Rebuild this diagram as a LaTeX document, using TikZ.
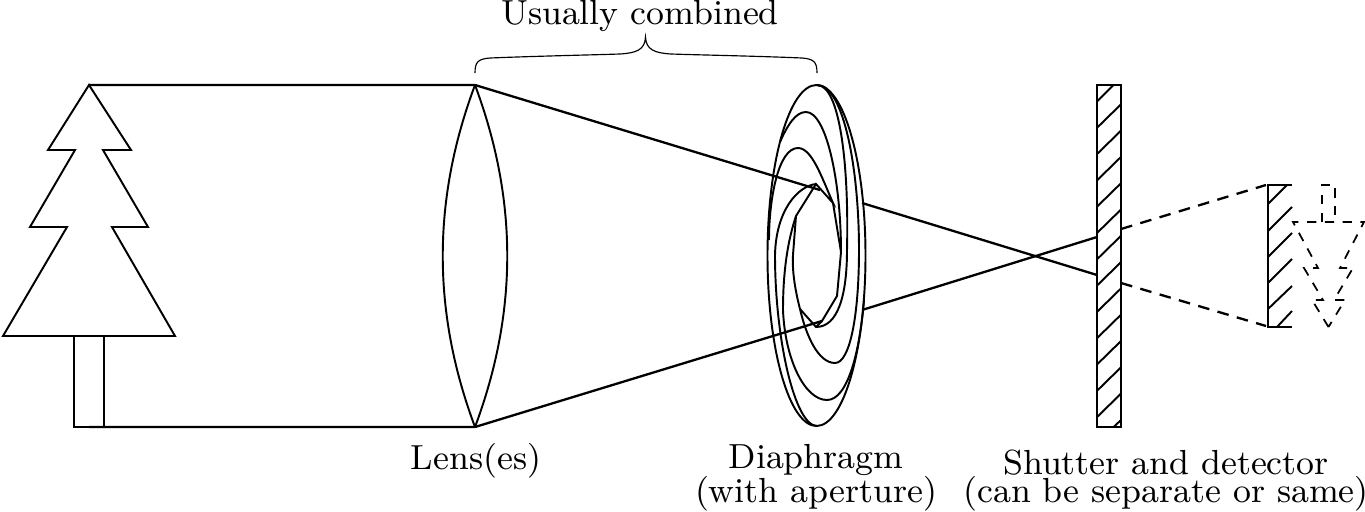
\documentclass[tikz,border=0pt]{standalone}
\tikzset{
  thinline/.style={line width=0.5pt,line join=miter},
  braceline/.style={line width=0.3pt},
  ray/.style={line width=0.6pt},
  dashray/.style={line width=0.6pt,dash pattern=on 3pt off 2.2pt},
  dashthin/.style={line width=0.45pt,dash pattern=on 2.4pt off 2.2pt},
  lbl/.style={inner sep=0pt,anchor=base,align=center,font=\fontsize{9}{10}\selectfont}
}
\begin{document}
\begin{tikzpicture}[x=0.2584pt,y=-0.2584pt]
\useasboundingbox (0,0) rectangle (1365,512);
% tree
\draw[thinline] (89,85) -- (48,150) -- (75,150) -- (30,227) -- (67,227) -- (3,336) -- (175,336) -- (112,227) -- (148,227) -- (103,150) -- (131,150) -- cycle;
\draw[thinline] (74,336) -- (74,427) -- (104,427) -- (104,336);
% named anchors
\coordinate (treetop) at (89,85);
\coordinate (treebot) at (89,427);
\coordinate (lenstop) at (475,85);
\coordinate (lensbot) at (475,427);
\coordinate (rayA) at (820,190);
\coordinate (rayB) at (822,321);
\coordinate (rayC) at (862,203);
\coordinate (rayD) at (862,310);
\coordinate (detA) at (1097,275);
\coordinate (detB) at (1097,237);
\coordinate (dashA) at (1121,229);
\coordinate (dashB) at (1121,283);
\coordinate (imgA) at (1266,185);
\coordinate (imgB) at (1266,326);
% lens
\draw[thinline] (lenstop) .. controls (432,200) and (432,312) .. (lensbot);
\draw[thinline] (lenstop) .. controls (518,200) and (518,312) .. (lensbot);
% rays
\draw[ray] (treetop) -- (lenstop) -- (rayA);
\draw[ray] (treebot) -- (lensbot) -- (rayB);
\draw[ray] (rayC) -- (detA);
\draw[ray] (rayD) -- (detB);
\draw[dashray] (dashA) -- (imgA);
\draw[dashray] (dashB) -- (imgB);
% diaphragm
\draw[thinline] (816.5,255.5) ellipse [x radius=49,y radius=170.5];
\draw[thinline] (780,142) .. controls (788,124) and (796,112) .. (806,112) .. controls (826,112) and (841,180) .. (841,252) -- (837,296) -- (822,321) -- (816,327);
\draw[thinline] (769,240) .. controls (769,200) and (778,148) .. (798,148) .. controls (812,148) and (822,178) .. (833,203) -- (816,184) -- (796,216) .. controls (788,240) and (783,270) .. (783,310) .. controls (785,360) and (805,400) .. (827,400) .. controls (848,400) and (860,350) .. (864,300);
\draw[thinline] (833,203) -- (841,252);
\draw[thinline] (817,85) .. controls (840,85) and (849,165) .. (847,250) .. controls (847,295) and (838,327) .. (816,327) -- (800,309);
\draw[thinline] (817,85) .. controls (844,85) and (859,170) .. (859,250) .. controls (859,315) and (850,363) .. (835,363) .. controls (818,363) and (806,335) .. (800,309) .. controls (795,290) and (792,270) .. (793,255) -- (796,216);
\draw[thinline] (816,184) .. controls (798,186) and (776,210) .. (775,255) .. controls (775,340) and (795,426) .. (817,426);
% brace
\draw[braceline] (475,73) .. controls (475,62) and (478,59) .. (490,58) .. controls (540,56) and (590,55) .. (620,54) .. controls (636,53) and (645,50) .. (645.5,37) .. controls (646,50) and (655,53) .. (671,54) .. controls (700,55) and (755,56) .. (802,58) .. controls (814,59) and (817,62) .. (817,73);
% detectors
\draw[thinline] (1097,85) rectangle (1121,427);
\foreach \k in {1,...,12} {
  \pgfmathsetmacro{\ya}{101.5+26.3*\k}
  \draw[thinline] (1097,\ya) -- (1121,\ya-23.5);
}
\draw[thinline] (1097,101.5) -- (1113.5,85);
\draw[thinline] (1113.6,427) -- (1121,420);
\draw[thinline] (1292,185) -- (1268,185) -- (1268,327) -- (1292,327);
\draw[thinline] (1268,204) -- (1287,185);
\draw[thinline] (1268,231) -- (1292,207);
\draw[thinline] (1268,257) -- (1292,233);
\draw[thinline] (1268,283) -- (1292,259);
\draw[thinline] (1268,309) -- (1292,286);
\draw[thinline] (1277,327) -- (1292,311);
% inverted tree
\draw[dashthin] (1322,222) -- (1322,185) -- (1335,185) -- (1335,222);
\draw[dashthin] (1328.5,327) -- (1312,300) -- (1323,300) -- (1304,268) -- (1318,268) -- (1293,222) -- (1364,222) -- (1340,268) -- (1353,268) -- (1334,300) -- (1345,300) -- cycle;
% labels
\node[lbl] (combined) at (640,25) {Usually combined};
\node[lbl] (lens) at (476,469) {Lens(es)};
\node[lbl] (dia1) at (816,468) {Diaphragm};
\node[lbl] (dia2) at (816,502) {(with aperture)};
\node[lbl] (shut1) at (1166,474) {Shutter and detector};
\node[lbl] (shut2) at (1166,502) {(can be separate or same)};
\end{tikzpicture}
\end{document}
